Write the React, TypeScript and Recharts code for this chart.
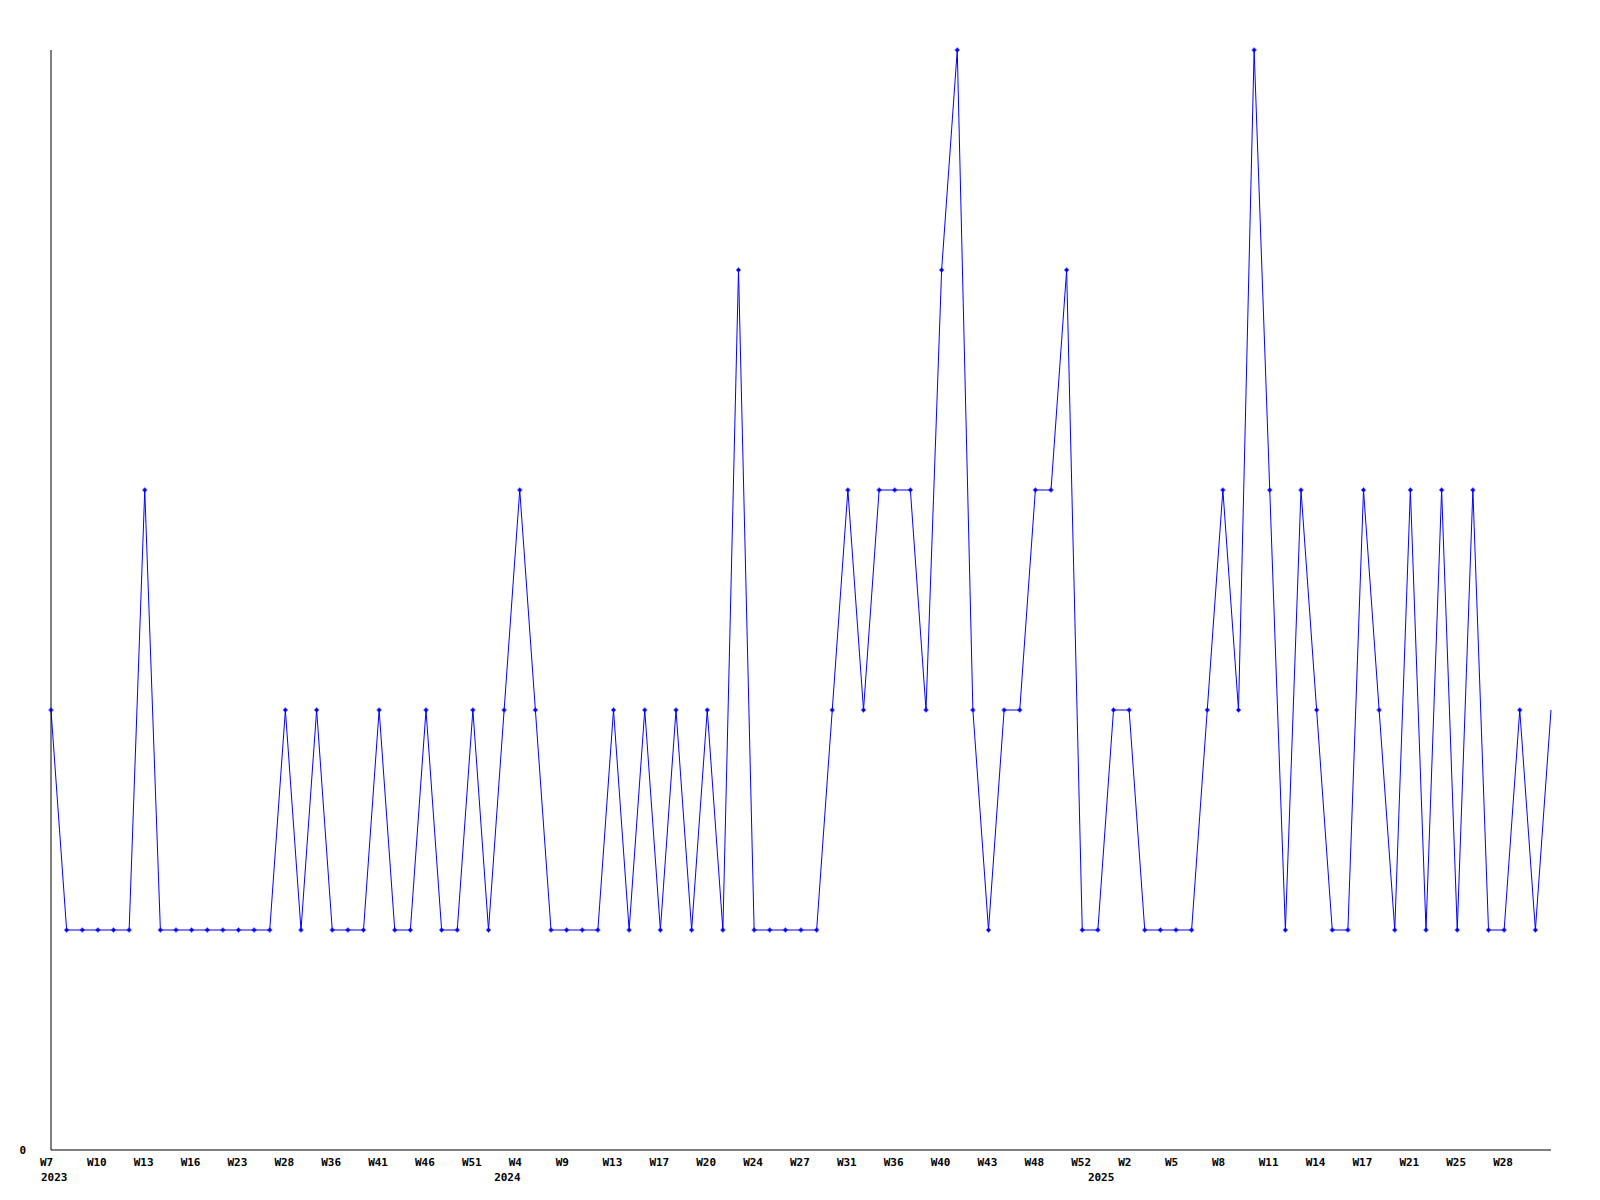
import React from "react";
import { LineChart, Line, XAxis, YAxis } from "recharts";

// Weekly values, one per plotted point (left to right)
const values: number[] = [
  2, 1, 1, 1, 1, 1, 3, 1, 1, 1, 1, 1, 1, 1, 1, 2, 1, 2, 1, 1,
  1, 2, 1, 1, 2, 1, 1, 2, 1, 2, 3, 2, 1, 1, 1, 1, 2, 1, 2, 1,
  2, 1, 2, 1, 4, 1, 1, 1, 1, 1, 2, 3, 2, 3, 3, 3, 2, 4, 5, 2,
  1, 2, 2, 3, 3, 4, 1, 1, 2, 2, 1, 1, 1, 1, 2, 3, 2, 5, 3, 1,
  3, 2, 1, 1, 3, 2, 1, 3, 1, 3, 1, 3, 1, 1, 2, 1, 2,
];

// Week tick labels (one every third point)
const weekLabels: string[] = [
  "W7", "W10", "W13", "W16", "W23", "W28", "W36", "W41", "W46", "W51",
  "W4", "W9", "W13", "W17", "W20", "W24", "W27", "W31", "W36", "W40",
  "W43", "W48", "W52", "W2", "W5", "W8", "W11", "W14", "W17", "W21",
  "W25", "W28",
];

// Year labels and the point index where each is printed
const yearLabels: string[] = ["2023", "2024", "2025"];
const yearStartIdx: number[] = [0, 29, 67];

const yTicks: number[] = [0];

const data = values.map((v, i) => ({ idx: i, value: v }));

const FONT = "'DejaVu Sans Mono', 'Liberation Mono', monospace";
const BLUE = "#0000ff";

function XTick(props: any) {
  const { x, y, payload } = props;
  const i = Number(payload.value);
  const parts: React.ReactNode[] = [];
  if (i % 3 === 0) {
    const label = weekLabels[i / 3];
    if (label) {
      parts.push(
        <text
          key="w"
          x={x - 11}
          y={y + 16}
          textAnchor="start"
          fontFamily={FONT}
          fontWeight="bold"
          fontSize={11}
          fill="#000"
        >
          {label}
        </text>
      );
    }
  }
  const yi = yearStartIdx.indexOf(i);
  if (yi >= 0) {
    parts.push(
      <text
        key="y"
        x={x - 10}
        y={y + 31}
        textAnchor="start"
        fontFamily={FONT}
        fontWeight="bold"
        fontSize={11}
        fill="#000"
      >
        {yearLabels[yi]}
      </text>
    );
  }
  return <g>{parts}</g>;
}

function CrossDot(props: any) {
  const { cx, cy, index } = props;
  if (cx == null || cy == null || index === values.length - 1) {
    return <g key={`d${index}`} />;
  }
  return (
    <g key={`d${index}`}>
      <rect x={cx - 2.5} y={cy - 0.5} width={5} height={1} fill={BLUE} />
      <rect x={cx - 0.5} y={cy - 2.5} width={1} height={5} fill={BLUE} />
      <rect x={cx - 1.5} y={cy - 1.5} width={3} height={3} fill={BLUE} />
    </g>
  );
}

export default function App() {
  return (
    <div style={{ background: "#fff" }}>
      <LineChart
        width={1584}
        height={1184}
        data={data}
        margin={{ top: 42, right: 41, bottom: 5, left: 3 }}
      >
        <XAxis
          dataKey="idx"
          type="category"
          interval={0}
          axisLine={{ stroke: "#000", strokeWidth: 1 }}
          tickLine={false}
          tickSize={0}
          tickMargin={0}
          height={37}
          tick={<XTick />}
        />
        <YAxis
          domain={[0, 5]}
          ticks={yTicks}
          width={40}
          axisLine={{ stroke: "#000", strokeWidth: 1 }}
          tickLine={false}
          tickSize={0}
          tickMargin={25}
          tick={{
            fontFamily: FONT,
            fontWeight: "bold",
            fontSize: 11,
            fill: "#000",
          }}
        />
        <Line
          type="linear"
          dataKey="value"
          stroke={BLUE}
          strokeWidth={1}
          dot={CrossDot}
          activeDot={false}
          isAnimationActive={false}
        />
      </LineChart>
    </div>
  );
}
